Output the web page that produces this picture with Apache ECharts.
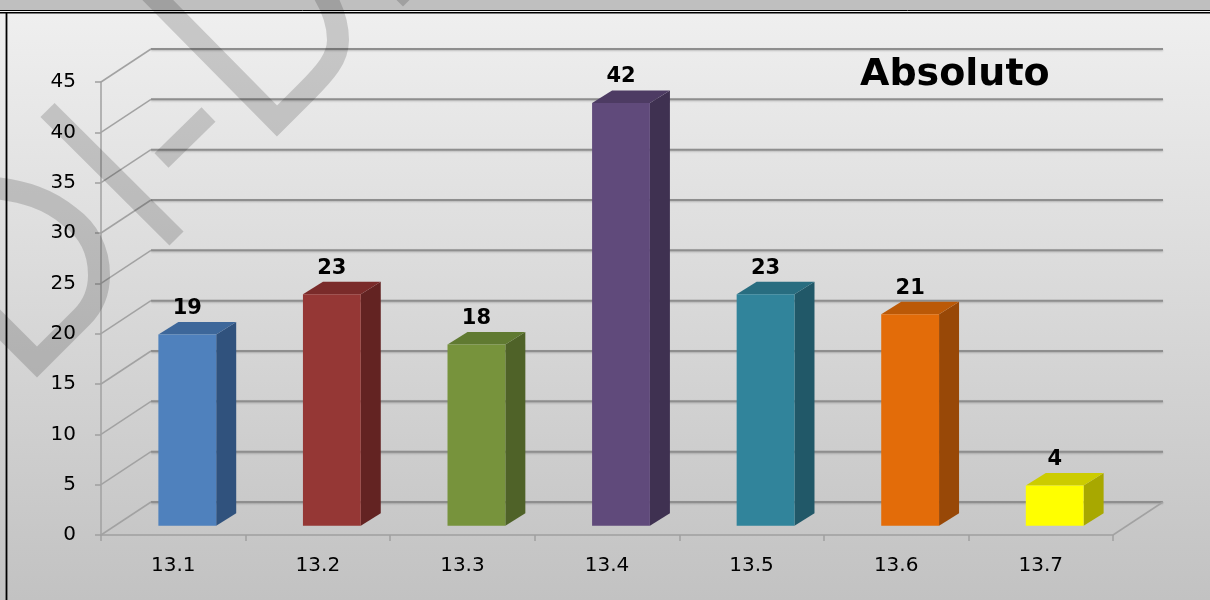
<!DOCTYPE html>
<html><head><meta charset="utf-8">
<script src="https://cdn.jsdelivr.net/npm/echarts@6/dist/echarts.min.js"></script>
<style>html,body{margin:0;padding:0;background:#fff;}#c{width:1210px;height:600px;}</style>
</head><body><div id="c"></div>
<script>
const categories = ['13.1', '13.2', '13.3', '13.4', '13.5', '13.6', '13.7'];
const values = [19, 23, 18, 42, 23, 21, 4];
const frontColors = ['#4f81bd', '#953735', '#77933c', '#604a7b', '#31849b', '#e36c09', '#ffff00'];
const sideColors = ['#30527d', '#632322', '#4f6228', '#3f3151', '#215868', '#984807', '#a8a800'];
const topColors = ['#3d679a', '#7a2b2a', '#607a31', '#4d3b63', '#286d80', '#bb5907', '#cccc00'];
const yTicks = [0, 5, 10, 15, 20, 25, 30, 35, 40, 45];
const titleText = 'Absoluto';

const DX = 50, DY = -33;
const FONT = '"DejaVu Sans", Verdana, sans-serif';

const chart = echarts.init(document.getElementById('c'));

function renderWall(params, api) {
  const v = api.value(1);
  const p = api.coord([0, v]);
  const cs = params.coordSys;
  const y = p[1];
  const x0 = cs.x, x1 = cs.x + cs.width;
  const children = [
    {type: 'line', shape: {x1: x0 + DX, y1: y + DY, x2: x1 + DX, y2: y + DY},
     style: {stroke: '#8e8e8e', lineWidth: 2, shadowBlur: 2, shadowColor: 'rgba(0,0,0,0.2)', shadowOffsetY: 1}},
    {type: 'line', shape: {x1: x0, y1: y, x2: x0 + DX, y2: y + DY},
     style: {stroke: '#a2a2a2', lineWidth: 1.5}}
  ];
  if (v === 0) {
    children.push({type: 'line', shape: {x1: x1, y1: y, x2: x1 + DX, y2: y + DY},
      style: {stroke: '#a2a2a2', lineWidth: 1.5}});
  }
  return {type: 'group', children: children};
}

function renderBar(params, api) {
  const i = api.value(0), v = api.value(1);
  const base = api.coord([i, 0]);
  const top = api.coord([i, v]);
  const bw = api.size([1, 0])[0];
  const fx = 0.28 * DX, fy = 0.28 * DY;
  const w = 0.4 * bw;
  const dx = 0.4 * DX, dy = 0.38 * DY;
  const x0 = base[0] + fx - w / 2, x1 = x0 + w;
  const yb = base[1] + fy, yt = top[1] + fy;
  return {type: 'group', children: [
    {type: 'polygon', shape: {points: [[x1, yb], [x1, yt], [x1 + dx, yt + dy], [x1 + dx, yb + dy]]}, style: {fill: sideColors[i]}},
    {type: 'polygon', shape: {points: [[x0, yt], [x1, yt], [x1 + dx, yt + dy], [x0 + dx, yt + dy]]}, style: {fill: topColors[i]}},
    {type: 'rect', shape: {x: x0, y: yt, width: w, height: yb - yt}, style: {fill: frontColors[i]}},
    {type: 'text', style: {text: String(v), x: (x0 + x1) / 2, y: yt - 26, align: 'center', verticalAlign: 'middle',
      font: 'bold 21px ' + FONT, fill: '#000'}}
  ]};
}

const wm = 'rgba(0,0,0,0.16)';
function wmPath(d, lw) {
  return {type: 'path', shape: {pathData: d}, style: {fill: null, stroke: wm, lineWidth: lw, lineJoin: 'miter', lineCap: 'butt'}};
}
function renderWatermark() {
  return {type: 'group', children: [
    wmPath('M 140 -18 L 277 121 L 306 92 C 326 72 338 58 338 40 C 338 20 330 2 318 -15', 22),
    wmPath('M -30 295 L 37 362 L 82 317 C 94 305 99 290 99 275 C 99 250 88 230 70 217 C 50 200 25 190 -15 187', 22),
    wmPath('M 161.5 160.5 L 208.5 114.5', 20),
    wmPath('M 47.5 110 L 176.5 238.5', 20),
    wmPath('M 380 -32 L 403 -9 L 426 -32', 22)
  ]};
}

const option = {
  animation: false,
  backgroundColor: new echarts.graphic.LinearGradient(0, 0, 0, 1, [
    {offset: 0, color: '#f0f0f0'}, {offset: 1, color: '#c2c2c2'}
  ]),
  grid: {left: 101, right: 97, top: 82, bottom: 65},
  xAxis: {
    type: 'category', data: categories,
    axisLine: {lineStyle: {color: '#a0a0a0', width: 1.5}},
    axisTick: {show: true, length: 6, lineStyle: {color: '#a0a0a0', width: 1.5}},
    axisLabel: {fontSize: 20, fontFamily: FONT, color: '#000', margin: 21},
    splitLine: {show: false}
  },
  yAxis: {
    type: 'value', min: 0, max: 45, interval: 5,
    axisLine: {show: true, lineStyle: {color: '#a0a0a0', width: 1.5}},
    axisTick: {show: true, length: 6, lineStyle: {color: '#a0a0a0', width: 1.5}},
    axisLabel: {fontSize: 20, fontFamily: FONT, color: '#000', margin: 25},
    splitLine: {show: false}
  },
  series: [
    {type: 'custom', z: 1, silent: true, renderItem: renderWall, data: yTicks.map(v => [0, v]), encode: {x: 0, y: 1}},
    {type: 'custom', z: 3, silent: true, renderItem: renderBar, data: values.map((v, i) => [i, v]), encode: {x: 0, y: 1}},
    {type: 'custom', z: 100, silent: true, coordinateSystem: 'none', renderItem: renderWatermark, data: [0]}
  ],
  graphic: [
    {type: 'rect', z: 5, shape: {x: 0, y: 0, width: 1210, height: 10.5}, style: {fill: '#bfbfbf'}},
    {type: 'line', z: 5, shape: {x1: 0, y1: 10.5, x2: 1210, y2: 10.5}, style: {stroke: '#000', lineWidth: 1}},
    {type: 'line', z: 5, shape: {x1: 0, y1: 12.8, x2: 1210, y2: 12.8}, style: {stroke: '#000', lineWidth: 1.5}},
    {type: 'line', z: 5, shape: {x1: 6.5, y1: 12, x2: 6.5, y2: 600}, style: {stroke: '#000', lineWidth: 1.8}},
    {type: 'text', z: 5, style: {text: titleText, x: 860, y: 75, align: 'left', verticalAlign: 'middle',
      font: 'bold 38px ' + FONT, fill: '#000'}}
  ]
};
chart.setOption(option);
</script>
</body></html>
